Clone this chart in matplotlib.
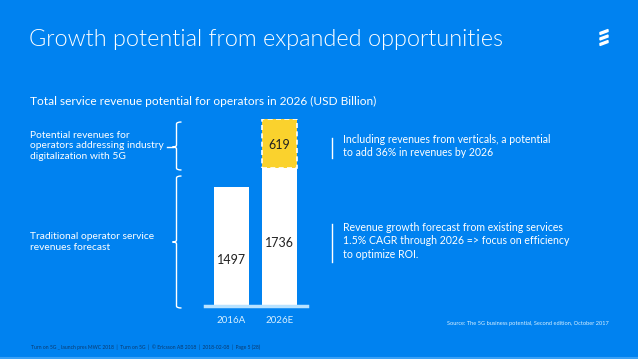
import matplotlib.pyplot as plt
from matplotlib.path import Path
from matplotlib.patches import PathPatch, Polygon

# Дані
years = ['2016A', '2026E']
traditional = [1497, 1736]
digital = [0, 619]

BLUE = '#0082F0'
YELLOW = '#FAD22D'
plt.rcParams['font.family'] = ['Lato', 'DejaVu Sans']

W, H = 638, 359
fig = plt.figure(figsize=(W / 100, H / 100), dpi=100, facecolor=BLUE)

# Накладка в піксельних координатах для тексту й дужок
ov = fig.add_axes([0, 0, 1, 1])
ov.set_xlim(0, W)
ov.set_ylim(H, 0)
ov.axis('off')

# Графік
ax = fig.add_axes([205 / W, (H - 306) / H, 102 / W, 187 / H])
ax.set_facecolor('none')
ax.set_xlim(-0.552, 1.573)
ax.set_ylim(0, 2355)
x = range(len(years))
ax.bar(x, traditional, width=0.73, color='white', zorder=2)
ax.bar(x[1:], digital[1:], bottom=traditional[1:], width=0.73, color=YELLOW,
       edgecolor='white', linestyle=(0, (3, 2)), linewidth=1.2, zorder=3)
for s in ['top', 'right', 'left']:
    ax.spines[s].set_visible(False)
ax.spines['bottom'].set_color('#b8e2ff')
ax.spines['bottom'].set_linewidth(2.5)
ax.set_yticks([])
ax.set_xticks(list(x))
ax.set_xticklabels(years, color='#d6efff', fontsize=7)
ax.tick_params(axis='x', length=0, pad=7)

label_frac = [0.39, 0.46]
for i, v in enumerate(traditional):
    ax.text(i, v * label_frac[i], str(v), ha='center', va='center', fontsize=9, color='#222222', zorder=4)
ax.text(1, traditional[1] + digital[1] * 0.48, str(digital[1]), ha='center', va='center',
        fontsize=9, color='#222222', zorder=4)

# Заголовки
ov.text(29, 40, 'Growth potential from expanded opportunities', fontsize=16.95, color='white',
        weight=300, va='center')
ov.text(30, 101, 'Total service revenue potential for operators in 2026 (USD Billion)', fontsize=8.6,
        color='white', va='center')

# Ліві підписи
ov.text(30, 146, 'Potential revenues for\noperators addressing industry\ndigitalization with 5G',
        fontsize=7.4, color='white', va='center', linespacing=1.25)
ov.text(30, 242, 'Traditional operator service\nrevenues forecast',
        fontsize=7.4, color='white', va='center', linespacing=1.25)


def brace(top, bottom, mid, xv=176.5, hook=5, nub=4):
    r = 2
    verts = [(xv + hook, top), (xv, top), (xv, top + r),
             (xv, mid - r), (xv, mid), (xv - nub, mid), (xv, mid), (xv, mid + r),
             (xv, bottom - r), (xv, bottom), (xv + hook, bottom)]
    codes = [Path.MOVETO, Path.CURVE3, Path.CURVE3,
             Path.LINETO, Path.CURVE3, Path.CURVE3, Path.CURVE3, Path.CURVE3,
             Path.LINETO, Path.CURVE3, Path.CURVE3]
    ov.add_patch(PathPatch(Path(verts, codes), fill=False, edgecolor='white', lw=1.0))


brace(122, 170, 147)
brace(176, 308, 242)
ov.plot([167, 173], [147, 147], color='white', lw=1.0)

# Праві підписи
ov.plot([332, 332], [138, 158], color='white', lw=1.0)
ov.text(343, 146, 'Including revenues from verticals, a potential\nto add 36% in revenues by 2026',
        fontsize=7.6, color='white', va='center', linespacing=1.25)
ov.plot([332, 332], [224, 262], color='white', lw=1.0)
ov.text(343, 241, 'Revenue growth forecast from existing services\n1.5% CAGR through 2026 => focus on efficiency\nto optimize ROI.',
        fontsize=7.6, color='white', va='center', linespacing=1.25)

# Джерело і нижній колонтитул
ov.text(447, 323, 'Source: The 5G business potential, Second edition, October 2017', fontsize=4.1,
        color='#d6efff', va='center')
ov.text(31, 347, 'Turn on 5G _ launch pres MWC 2018  |  Turn on 5G  |  \u00a9 Ericsson AB 2018  |  2018-02-08  |  Page 5 (28)',
        fontsize=3.6, color='#0b3a6e', va='center')
ov.plot([0, W], [358, 358], color='#3aa0f5', lw=1.5)

# Логотип
for y0 in [31, 36.5, 42]:
    ov.add_patch(Polygon([(600, y0 + 1.5), (608, y0 - 1.5), (608, y0 + 0.5), (600, y0 + 3.5)],
                         closed=True, color='white'))

fig.savefig('out.png', dpi=100, facecolor=BLUE)
